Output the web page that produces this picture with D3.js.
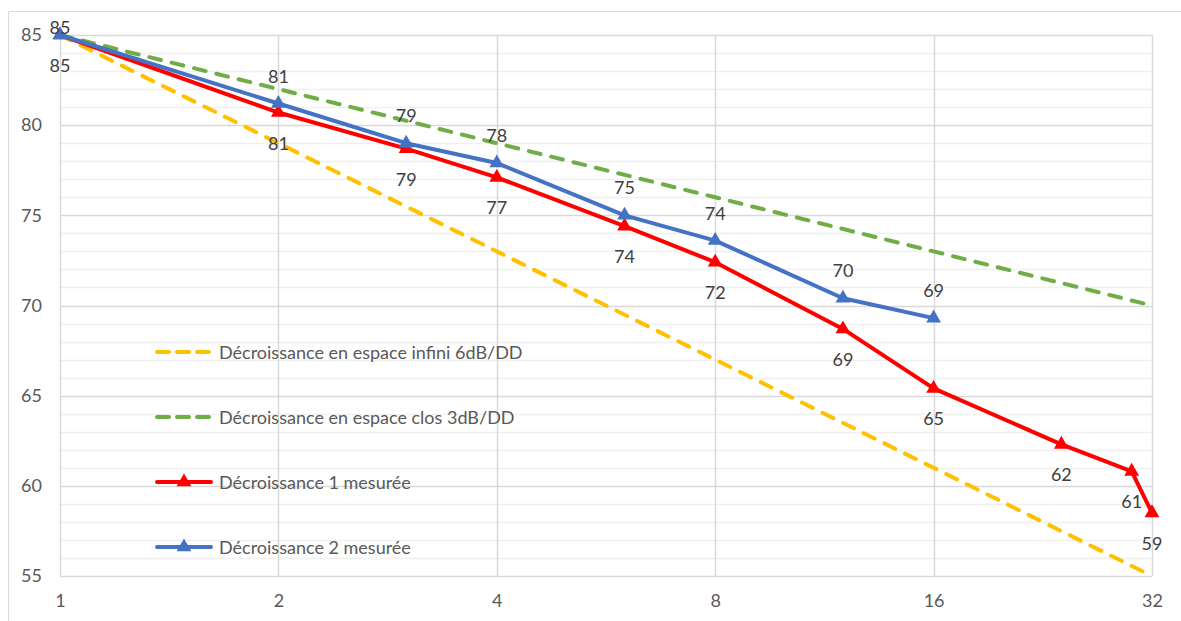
<!DOCTYPE html>
<html>
<head>
<meta charset="utf-8">
<script src="https://cdn.jsdelivr.net/npm/d3@7"></script>
<style>
  body { margin: 0; background: #fff; }
  svg { display: block; font-family: Lato, "Liberation Sans", Arial, sans-serif; }
</style>
</head>
<body>
<div id="chart"></div>
<script>
// distances (log2 axis)
const xTicks = [1, 2, 4, 8, 16, 32];
const yMajorTicks = [55, 60, 65, 70, 75, 80, 85];

// theoretical slopes
const infiniX = [1, 2, 4, 8, 16, 32];
const infiniY = [85, 79, 73, 67, 61, 55];
const closX = [1, 2, 4, 8, 16, 32];
const closY = [85, 82, 79, 76, 73, 70];

// measured
const mes1X = [1, 2, 3, 4, 6, 8, 12, 16, 24, 30, 32];
const mes1Y = [85, 80.7, 78.7, 77.1, 74.4, 72.4, 68.7, 65.4, 62.3, 60.8, 58.5];
const mes2X = [1, 2, 3, 4, 6, 8, 12, 16];
const mes2Y = [85, 81.2, 79.0, 77.9, 75.0, 73.6, 70.4, 69.3];

const legendLabels = [
    "Décroissance en espace infini 6dB/DD",
    "Décroissance en espace clos 3dB/DD",
    "Décroissance 1 mesurée",
    "Décroissance 2 mesurée"
];

function drawChart() {
    const W = 1181, H = 621;
    const margin = { top: 35, right: 29, bottom: 45, left: 60 },
        width = W - margin.left - margin.right,
        height = H - margin.top - margin.bottom;
    const fontSize = "18px";

    const root = d3.select("#chart")
        .append("svg")
        .attr("width", W)
        .attr("height", H);

    root.append("rect").attr("width", W).attr("height", H).attr("fill", "#fff");

    // outer chart border (top + left visible)
    root.append("path")
        .attr("d", `M8.5,${H} V11.5 H${W}`)
        .attr("fill", "none")
        .attr("stroke", "#d9d9d9")
        .attr("stroke-width", 1);

    const svg = root.append("g")
        .attr("transform", `translate(${margin.left},${margin.top})`);

    const x = d3.scaleLog().base(2).domain([1, 32]).range([0, width]);
    const y = d3.scaleLinear().domain([55, 85]).range([height, 0]);

    // minor gridlines
    svg.append("g")
        .selectAll("line")
        .data(d3.range(56, 85).filter(v => v % 5 !== 0))
        .join("line")
        .attr("x1", 0).attr("x2", width)
        .attr("y1", d => Math.round(y(d)) + 0.5)
        .attr("y2", d => Math.round(y(d)) + 0.5)
        .attr("stroke", "#f0f0f0")
        .attr("stroke-width", 1.5);

    // major gridlines
    svg.append("g")
        .selectAll("line")
        .data(yMajorTicks)
        .join("line")
        .attr("x1", 0).attr("x2", width)
        .attr("y1", d => Math.round(y(d)) + 0.5)
        .attr("y2", d => Math.round(y(d)) + 0.5)
        .attr("stroke", "#d9d9d9")
        .attr("stroke-width", 1.5);

    svg.append("g")
        .selectAll("line")
        .data(xTicks)
        .join("line")
        .attr("x1", d => Math.round(x(d)) + 0.5)
        .attr("x2", d => Math.round(x(d)) + 0.5)
        .attr("y1", 0).attr("y2", height)
        .attr("stroke", "#d9d9d9")
        .attr("stroke-width", 1.5);

    // axes
    const yAxis = svg.append("g")
        .call(d3.axisLeft(y).tickValues(yMajorTicks).tickSize(0).tickPadding(18));
    yAxis.select(".domain").remove();
    yAxis.attr("font-family", null);
    yAxis.selectAll("text")
        .attr("fill", "#595959")
        .style("font-size", fontSize);

    const xAxis = svg.append("g")
        .attr("transform", `translate(0,${height})`)
        .call(d3.axisBottom(x).tickValues(xTicks).tickFormat(d3.format("d")).tickSize(0).tickPadding(18));
    xAxis.select(".domain").remove();
    xAxis.attr("font-family", null);
    xAxis.selectAll("text")
        .attr("fill", "#595959")
        .style("font-size", fontSize);

    const line = d3.line()
        .x(d => x(d[0]))
        .y(d => y(d[1]));

    const zip = (a, b) => a.map((v, i) => [v, b[i]]);

    const series = [
        { pts: zip(infiniX, infiniY), color: "#FFC000", dash: true },
        { pts: zip(closX, closY), color: "#70AD47", dash: true },
        { pts: zip(mes1X, mes1Y), color: "#FF0000", marker: true, labelDy: 30 },
        { pts: zip(mes2X, mes2Y), color: "#4472C4", marker: true, labelDy: -28 }
    ];

    const tri = d3.symbol().type(d3.symbolTriangle).size(95);

    series.forEach(s => {
        svg.append("path")
            .datum(s.pts)
            .attr("fill", "none")
            .attr("stroke", s.color)
            .attr("stroke-width", 4)
            .attr("stroke-linecap", "round")
            .attr("stroke-linejoin", "round")
            .attr("stroke-dasharray", s.dash ? "12,11" : null)
            .attr("d", line);

        if (s.marker) {
            svg.append("g")
                .selectAll("path")
                .data(s.pts)
                .join("path")
                .attr("d", tri)
                .attr("transform", d => `translate(${x(d[0])},${y(d[1])})`)
                .attr("fill", s.color);
        }
    });

    // data labels
    series.filter(s => s.marker).forEach(s => {
        svg.append("g")
            .selectAll("text")
            .data(s.pts)
            .join("text")
            .attr("x", d => x(d[0]))
            .attr("y", d => Math.max(y(d[1]) + s.labelDy, -8))
            .attr("text-anchor", "middle")
            .attr("dominant-baseline", "central")
            .attr("fill", "#404040")
            .style("font-size", fontSize)
            .text(d => Math.round(d[1]));
    });

    // legend
    const legend = root.append("g");
    const rowsY = [352, 417, 482, 547];
    series.forEach((s, i) => {
        const g = legend.append("g").attr("transform", `translate(0,${rowsY[i]})`);
        g.append("line")
            .attr("x1", 157).attr("x2", 211)
            .attr("y1", 0).attr("y2", 0)
            .attr("stroke", s.color)
            .attr("stroke-width", 4)
            .attr("stroke-linecap", "round")
            .attr("stroke-dasharray", s.dash ? "12,8" : null);
        if (s.marker) {
            g.append("path")
                .attr("d", tri)
                .attr("transform", "translate(184,0)")
                .attr("fill", s.color);
        }
        g.append("text")
            .attr("x", 219)
            .attr("y", 0)
            .attr("dominant-baseline", "central")
            .attr("fill", "#595959")
            .style("font-size", fontSize)
            .text(legendLabels[i]);
    });
}
drawChart();
</script>
</body>
</html>
